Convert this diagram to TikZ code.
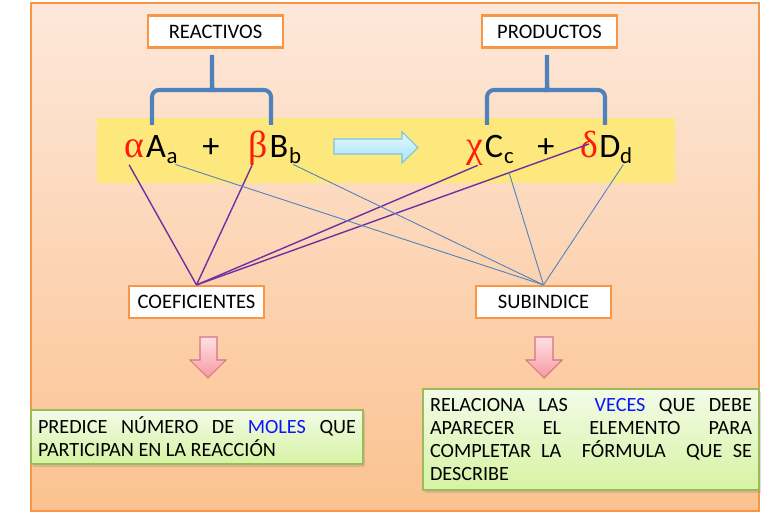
\documentclass[tikz,border=0pt]{standalone}
\usepackage{fontspec}
\setmainfont{Carlito}
\newfontfamily\grk{Liberation Serif}
\usetikzlibrary{shadows}
\definecolor{nar}{HTML}{F79646}
\definecolor{fa}{HTML}{FDE8DA}
\definecolor{fb}{HTML}{FBC290}
\definecolor{am}{HTML}{FDE87D}
\definecolor{ll}{HTML}{4F81BD}
\definecolor{mo}{HTML}{7030A0}
\definecolor{rj}{HTML}{FF1A0A}
\definecolor{az}{HTML}{0A14FF}
\definecolor{vd}{HTML}{9BBB59}
\definecolor{va}{HTML}{F3FBE8}
\definecolor{vb}{HTML}{D6F3A3}
\definecolor{ra}{HTML}{FFE0E3}
\definecolor{rb}{HTML}{F49AA3}
\definecolor{rd}{HTML}{D9737D}
\definecolor{ca}{HTML}{E2F8FF}
\definecolor{cb}{HTML}{A8E4F8}
\definecolor{cd}{HTML}{7CC3E0}

\begin{document}
\begin{tikzpicture}[x=0.02cm,y=-0.02cm]
          \tikzstyle{etiq}=[draw=nar,line width=1.2pt,fill=white,minimum width=2.7cm,minimum height=0.64cm,inner sep=0pt,font=\fontsize{11.7}{13}\selectfont]
          \tikzstyle{eq}=[inner sep=0pt,anchor=base,font=\fontsize{19.5}{20}\selectfont]
          \tikzstyle{gr}=[inner sep=0pt,anchor=base,text=rj,font=\fontsize{21.5}{22}\selectfont\grk]
          \tikzstyle{sb}=[inner sep=0pt,anchor=base,font=\fontsize{13}{14}\selectfont]
          \tikzstyle{caja}=[draw=vd,line width=0.8pt,top color=va,bottom color=vb,align=justify,inner xsep=0.14cm,font=\fontsize{11.5}{13.2}\selectfont,drop shadow={opacity=0.25,shadow xshift=1pt,shadow yshift=-1.5pt}]
          \tikzstyle{llave}=[draw=ll,line width=2.3pt,rounded corners=4pt]
          \useasboundingbox (0,0) rectangle (768,517);
          \shade[top color=fa,bottom color=fb,draw=nar,line width=0.8pt] (31,3) rectangle (759,511);
          \fill[am] (97,118) rectangle (675,183);
          % reaccion
          \node[gr] (alfa) at (134,157) {α};
          \node[eq] (A) at (156,157) {A};
          \node[sb] (a) at (172,164) {a};
          \node[eq] (mas1) at (211,157) {+};
          \node[gr] (beta) at (258,157) {β};
          \node[eq] (B) at (279,157) {B};
          \node[sb] (b) at (295,164) {b};
          \node[gr] (chi) at (475,157) {χ};
          \node[eq] (C) at (494,157) {C};
          \node[sb] (c) at (509,164) {c};
          \node[eq] (mas2) at (546,157) {+};
          \node[gr] (delta) at (589,157) {δ};
          \node[eq] (D) at (610,157) {D};
          \node[sb] (d) at (626,164) {d};
          \shade[top color=ca,bottom color=cb,draw=cd,line width=0.6pt] (334,139) -- (402,139) -- (402,132) -- (418,147.5) -- (402,163) -- (402,154) -- (334,154) -- cycle;
          % etiquetas
          \node[etiq] (reac) at (215.5,31.5) {REACTIVOS};
          \node[etiq] (prod) at (549.5,31.5) {PRODUCTOS};
          \node[etiq] (coef) at (196.5,302) {COEFICIENTES};
          \node[etiq] (subi) at (543.5,302) {SUBINDICE};
          \draw[llave] (152,125) -- (152,90) -- (205,90) .. controls (211,90) and (212,87) .. (212,80) -- (212,55);
          \draw[llave] (271,125) -- (271,90) -- (219,90) .. controls (213,90) and (212,87) .. (212,80);
          \draw[llave] (487,125) -- (487,90) -- (540,90) .. controls (546,90) and (547,87) .. (547,80) -- (547,55);
          \draw[llave] (605,125) -- (605,90) -- (554,90) .. controls (548,90) and (547,87) .. (547,80);
          % conectores
          \draw[mo,line width=0.8pt] (coef.north) -- ([xshift=-2.8pt,yshift=-4pt]alfa.south);
          \draw[mo,line width=0.8pt] (coef.north) -- ([xshift=-3.4pt]beta.south);
          \draw[mo,line width=0.8pt] (coef.north) -- ([xshift=1.5pt]chi.south);
          \draw[mo,line width=0.8pt] (coef.north) -- (delta.center);
          \draw[ll,line width=0.5pt] (subi.north) -- ([xshift=2pt]a.south);
          \draw[ll,line width=0.5pt] (subi.north) -- ([xshift=-1pt]b.south);
          \draw[ll,line width=0.5pt] (subi.north) -- ([yshift=-4.5pt]c.south);
          \draw[ll,line width=0.5pt] (subi.north) -- ([xshift=-1.5pt]d.south);
          % flechas
          \shade[top color=ra,bottom color=rb,draw=rd,line width=0.6pt] (200,337) -- (217,337) -- (217,360) -- (226,360) -- (208,378) -- (190,360) -- (200,360) -- cycle;
          \shade[top color=ra,bottom color=rb,draw=rd,line width=0.6pt] (535,337) -- (553,337) -- (553,360) -- (562,360) -- (544,378) -- (526,360) -- (535,360) -- cycle;
          \node[caja,text width=6.36cm,minimum height=1.08cm] (pred) at (197,437) {PREDICE NÚMERO DE \textcolor{az}{MOLES} QUE\linebreak PARTICIPAN EN LA REACCIÓN};
          \node[caja,text width=6.44cm,minimum height=2.02cm] (rela) at (591,439.5) {RELACIONA LAS \ \textcolor{az}{VECES} QUE DEBE\linebreak APARECER EL ELEMENTO PARA\linebreak COMPLETAR LA \ FÓRMULA \ QUE SE\linebreak DESCRIBE};
        \end{tikzpicture}
\end{document}
